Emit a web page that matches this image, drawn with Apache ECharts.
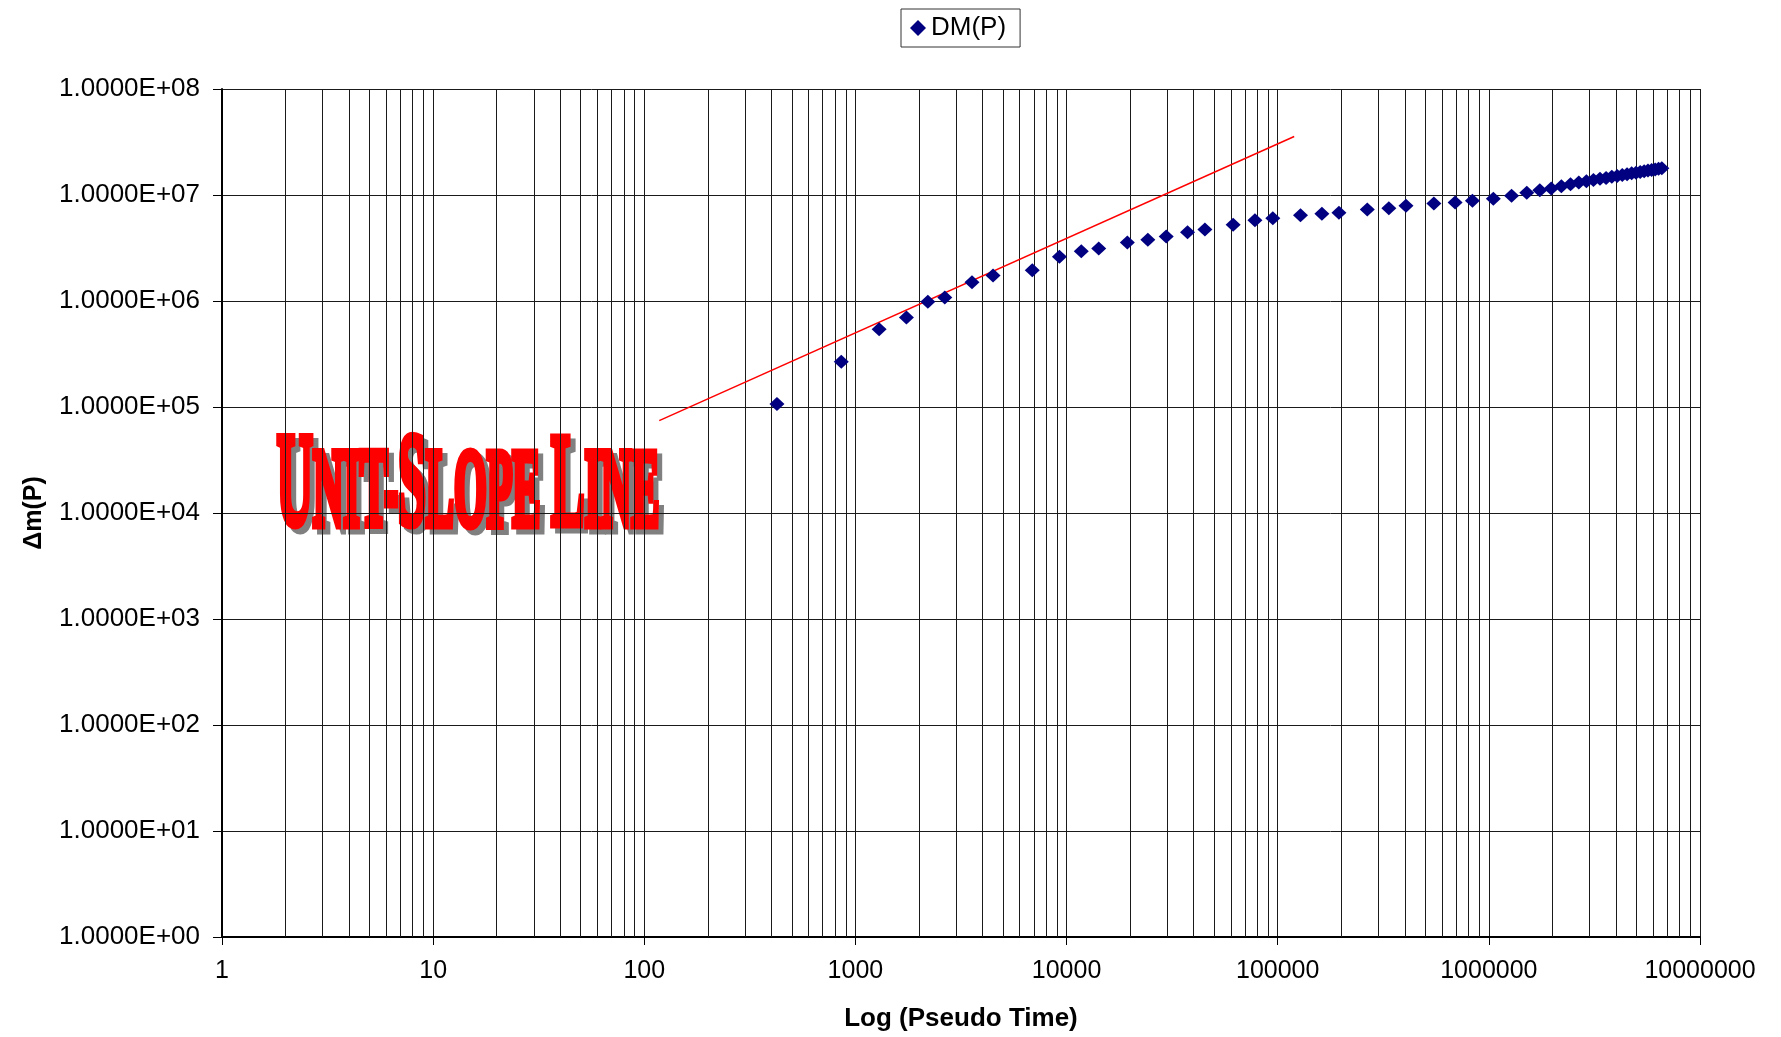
<!DOCTYPE html>
<html><head><meta charset="utf-8">
<script src="https://cdn.jsdelivr.net/npm/echarts@6/dist/echarts.min.js"></script>
<style>html,body{margin:0;padding:0;background:#fff}#c{width:1781px;height:1037px}</style>
</head><body><div id="c"></div>
<script>
// ---------- data ----------
const seriesName = 'DM(P)';
const xAxisTitle = 'Log (Pseudo Time)';
const yAxisTitle = 'Δm(P)';
const pseudoTime = [425, 857, 1295, 1744, 2203, 2650, 3565, 4485, 6880, 9250,
  11740, 14200, 19400, 24260, 29640, 37400, 45200, 61500, 78000, 94800,
  128200, 161900, 195000, 265600, 336000, 405000, 549000, 692000, 836000, 1050000,
  1281000, 1512000, 1743000, 1974000, 2205000, 2436000, 2667000, 2898000, 3129000, 3360000,
  3591000, 3822000, 4053000, 4284000, 4515000, 4746000, 4977000, 5208000, 5439000, 5670000,
  5901000, 6132000, 6363000, 6594000];
const dmP = [1.07e5, 2.67e5, 5.42e5, 6.98e5, 9.82e5, 1.08e6, 1.50e6, 1.74e6, 1.95e6, 2.61e6,
  2.95e6, 3.13e6, 3.56e6, 3.78e6, 4.06e6, 4.46e6, 4.73e6, 5.24e6, 5.78e6, 6.04e6,
  6.45e6, 6.65e6, 6.79e6, 7.30e6, 7.51e6, 7.91e6, 8.32e6, 8.50e6, 8.81e6, 9.21e6,
  9.83e6, 1.05e7, 1.11e7, 1.15e7, 1.21e7, 1.26e7, 1.31e7, 1.35e7, 1.385e7, 1.42e7,
  1.45e7, 1.485e7, 1.515e7, 1.545e7, 1.572e7, 1.60e7, 1.623e7, 1.648e7, 1.674e7, 1.70e7,
  1.72e7, 1.744e7, 1.766e7, 1.79e7];
const unitSlopeX = [117.7, 119700];
const unitSlopeY = [74300, 3.56e7];
const xTickLabels = ['1', '10', '100', '1000', '10000', '100000', '1000000', '10000000'];
const yTickLabels = ['1.0000E+00', '1.0000E+01', '1.0000E+02', '1.0000E+03', '1.0000E+04',
  '1.0000E+05', '1.0000E+06', '1.0000E+07', '1.0000E+08'];
// annotation: [text piece, relative size] (small caps)
const annotationPieces = [['U', 1], ['NIT-', 0.84], ['S', 1], ['LOPE ', 0.84], ['L', 1], ['INE', 0.84]];

// minor log grid positions (2..9 in each decade)
const minorX = [];
for (let d = 0; d < 7; d++) for (let k = 2; k <= 9; k++) minorX.push(k * Math.pow(10, d));

function buildWordArt(left, baseline, targetW, targetCapH, shadowDx, shadowDy) {
  const base = 100;
  const fam = '"Liberation Serif", "Times New Roman", serif';
  const ctx = document.createElement('canvas').getContext('2d');
  let x = 0;
  const red = [], grey = [];
  const sw = 7;
  annotationPieces.forEach(([t, s]) => {
    const fs = base * s;
    const font = 'bold ' + fs + 'px ' + fam;
    ctx.font = font;
    ctx.textBaseline = 'middle';
    const dy = ctx.measureText('I').actualBoundingBoxDescent;
    const w = ctx.measureText(t).width;
    const mk = (fill) => ({ type: 'text', x: x + sw / 2, y: -dy - sw / 2, silent: true,
      style: { text: t, font: font, fill: fill, stroke: fill, lineWidth: sw,
               align: 'left', verticalAlign: 'middle',
               textAlign: 'left', textVerticalAlign: 'middle' } });
    red.push(mk('#ff0000'));
    grey.push(mk('#808080'));
    x += w;
  });
  x += sw;
  ctx.font = 'bold ' + base + 'px ' + fam;
  ctx.textBaseline = 'alphabetic';
  const capH = ctx.measureText('U').actualBoundingBoxAscent + sw;
  const sx = targetW / x, sy = targetCapH / capH;
  return [
    { type: 'group', x: left + shadowDx, y: baseline + shadowDy, scaleX: sx, scaleY: sy, z: 10, children: grey },
    { type: 'group', x: left, y: baseline, scaleX: sx, scaleY: sy, z: 11, children: red }
  ];
}

const font = 'Liberation Sans, Arial, sans-serif';
const chart = echarts.init(document.getElementById('c'), null, { renderer: 'canvas' });
const option = {
  animation: false,
  backgroundColor: '#ffffff',
  grid: { left: 222, right: 81, top: 89, bottom: 99 },
  legend: {
    data: [seriesName], left: 901, top: 9, padding: [6, 14, 6, 9],
    itemWidth: 16, itemHeight: 16, icon: 'diamond',
    borderColor: '#333', borderWidth: 1, backgroundColor: '#fff',
    textStyle: { fontSize: 26, fontFamily: font, color: '#000' }
  },
  xAxis: {
    type: 'log', logBase: 10, min: 1, max: 1e7, splitNumber: 7,
    name: xAxisTitle, nameLocation: 'middle', nameGap: 69,
    nameTextStyle: { fontSize: 26, fontWeight: 'bold', fontFamily: font, color: '#000' },
    axisLine: { show: true, lineStyle: { color: '#000', width: 2 } },
    axisTick: { show: true, inside: false, length: 8, lineStyle: { color: '#000', width: 1 } },
    axisLabel: { margin: 22, fontSize: 25, fontFamily: font, color: '#000',
      showMinLabel: true, showMaxLabel: true,
      formatter: v => xTickLabels[Math.round(Math.log10(v))] },
    splitLine: { show: true, lineStyle: { color: '#1a1a1a', width: 1 } },
    minorTick: { show: false }, minorSplitLine: { show: false }
  },
  yAxis: {
    type: 'log', logBase: 10, min: 1, max: 1e8, splitNumber: 8,
    name: yAxisTitle, nameLocation: 'middle', nameGap: 175, nameRotate: 90,
    nameTextStyle: { fontSize: 25, fontWeight: 'bold', fontFamily: font, color: '#000' },
    axisLine: { show: true, lineStyle: { color: '#000', width: 2 } },
    axisTick: { show: true, inside: false, length: 9, lineStyle: { color: '#000', width: 1 } },
    axisLabel: { margin: 22, fontSize: 26, fontFamily: font, color: '#000',
      showMinLabel: true, showMaxLabel: true,
      formatter: v => yTickLabels[Math.round(Math.log10(v))] },
    splitLine: { show: true, lineStyle: { color: '#1a1a1a', width: 1 } }
  },
  series: [
    {
      name: seriesName, type: 'scatter', z: 4,
      data: pseudoTime.map((t, i) => [t, dmP[i]]),
      symbol: 'diamond', symbolSize: [15, 14],
      itemStyle: { color: '#000080', opacity: 1 }
    },
    {
      name: 'Unit-Slope Line', type: 'line', z: 3,
      data: unitSlopeX.map((x, i) => [x, unitSlopeY[i]]),
      symbol: 'none', lineStyle: { color: '#ff0000', width: 1.5 },
      markLine: {
        silent: true, z: 1, animation: false, symbol: ['none', 'none'],
        label: { show: false }, emphasis: { disabled: true },
        lineStyle: { color: '#1a1a1a', width: 1, type: 'solid' },
        data: minorX.map(v => ({ xAxis: v }))
      }
    }
  ],
  graphic: buildWordArt(275, 530, 386, 95, 5, 5)
};
chart.setOption(option);
</script>
</body></html>
